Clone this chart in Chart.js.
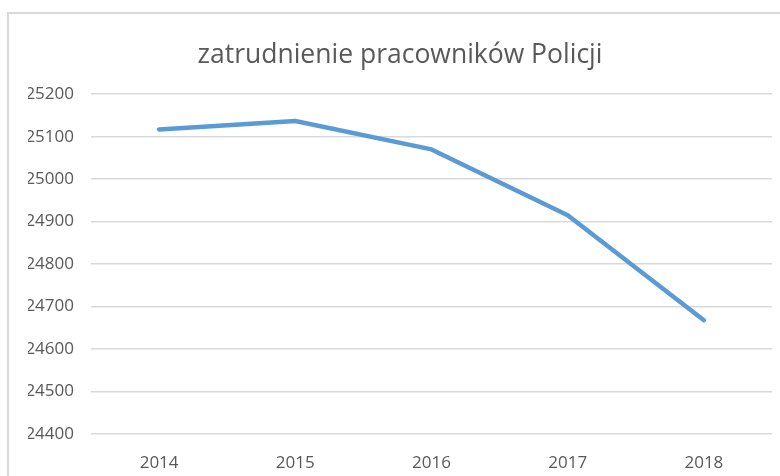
<!DOCTYPE html>
<html>
<head>
<meta charset="utf-8">
<script src="https://cdn.jsdelivr.net/npm/chart.js@4"></script>
<style>
    html, body { margin: 0; padding: 0; background: #fff; overflow: hidden; }
    #frame {
        position: absolute; left: 7px; top: 12px; width: 800px; height: 500px;
        border: 2px solid #d9d9d9; box-sizing: border-box;
    }
    #wrap { position: absolute; left: 0; top: 0; width: 780px; height: 476px; }
</style>
</head>
<body>
<div id="frame"></div>
<div id="wrap"><canvas id="chart" width="780" height="476"></canvas></div>
<script>
// Chart data
const years = ['2014', '2015', '2016', '2017', '2018'];
const employment = [25117, 25137, 25070, 24915, 24668];
const yTicks = [24400, 24500, 24600, 24700, 24800, 24900, 25000, 25100, 25200];

const TEXT_COLOR = '#595959';
const GRID_COLOR = '#d9d9d9';
const LINE_COLOR = '#5b9bd5';
const FONT = '"Open Sans", sans-serif';

const ctx = document.getElementById('chart').getContext('2d');

new Chart(ctx, {
    type: 'line',
    data: {
        labels: years,
        datasets: [
            {
                label: 'zatrudnienie',
                data: employment,
                borderColor: LINE_COLOR,
                borderWidth: 4.5,
                borderCapStyle: 'round',
                borderJoinStyle: 'round',
                pointRadius: 0,
                tension: 0,
                fill: false,
            },
        ],
    },
    options: {
        responsive: false,
        animation: false,
        layout: {
            // left padding keeps the title centred where the reference has it
            padding: { left: 28, right: 8, top: 30, bottom: 0 },
        },
        plugins: {
            legend: { display: false },
            tooltip: { enabled: false },
            title: {
                display: true,
                text: 'zatrudnienie pracowników Policji',
                color: TEXT_COLOR,
                font: { family: FONT, size: 26.5, weight: 'normal', lineHeight: 1.2 },
                padding: { top: 9.2, bottom: 23.2 },
            },
        },
        scales: {
            x: {
                offset: true,
                border: { display: false },
                grid: { display: false, drawTicks: false },
                afterFit: (scale) => {
                    scale.height = 42;
                },
                ticks: {
                    color: TEXT_COLOR,
                    padding: 19,
                    maxRotation: 0,
                    font: { family: FONT, size: 17 },
                },
            },
            y: {
                min: yTicks[0],
                max: yTicks[yTicks.length - 1],
                border: { display: false },
                grid: { color: GRID_COLOR, lineWidth: 1.5, drawTicks: false },
                afterBuildTicks: (scale) => {
                    scale.ticks = yTicks.map((v) => ({ value: v }));
                },
                afterFit: (scale) => {
                    scale.width = 63;
                },
                ticks: {
                    color: TEXT_COLOR,
                    padding: 17,
                    font: { family: FONT, size: 17 },
                    callback: (v) => String(v),
                },
            },
        },
    },
});
</script>
</body>
</html>
